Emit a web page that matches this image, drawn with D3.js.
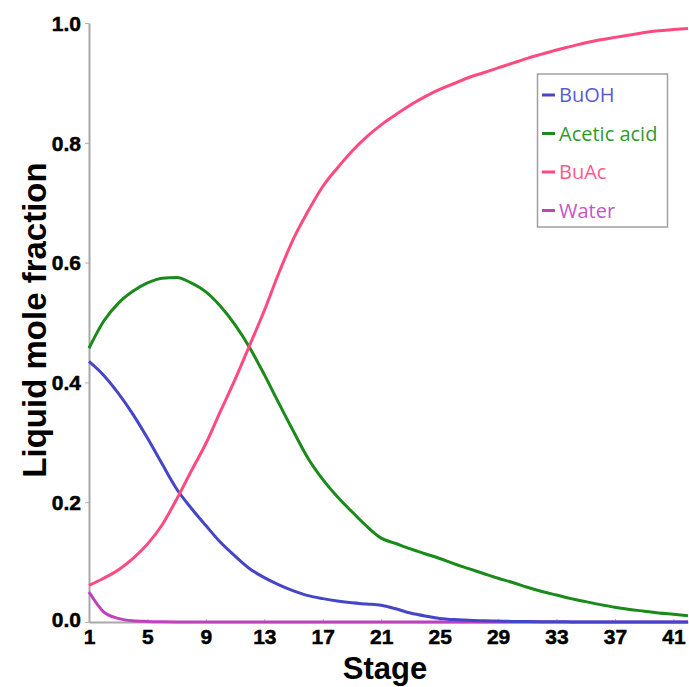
<!DOCTYPE html>
<html>
<head>
<meta charset="utf-8">
<script src="https://cdn.jsdelivr.net/npm/d3@7"></script>
<style>
  html, body { margin: 0; padding: 0; background: #fff; }
  svg { display: block; }
</style>
</head>
<body>
<svg id="chart" width="689" height="687"></svg>
<script>
const stages = d3.range(1, 43);
const xTicks = [1, 5, 9, 13, 17, 21, 25, 29, 33, 37, 41];
const yTicks = [0, 0.2, 0.4, 0.6, 0.8, 1.0];
const seriesNames = ["BuOH", "Acetic acid", "BuAc", "Water"];
const seriesColors = ["#4545c8", "#1a8a1a", "#ff4a80", "#c040c0"];
const legendTextColors = ["#5a5ad6", "#2e9a2e", "#ff5a8c", "#c855c8"];

const buoh = [0.435, 0.412, 0.382, 0.347, 0.307, 0.264, 0.222, 0.190, 0.161, 0.133,
  0.110, 0.089, 0.074, 0.062, 0.052, 0.044, 0.039, 0.035, 0.032, 0.030,
  0.028, 0.022, 0.015, 0.010, 0.006, 0.004, 0.003, 0.002, 0.0015, 0.001,
  0.0007, 0.0005, 0.0003, 0.0002, 0.0001, 0, 0, 0, 0, 0, 0, 0];
const acetic = [0.457, 0.502, 0.532, 0.552, 0.566, 0.574, 0.575, 0.566, 0.551, 0.527,
  0.496, 0.458, 0.413, 0.365, 0.318, 0.273, 0.238, 0.209, 0.184, 0.160,
  0.140, 0.131, 0.122, 0.114, 0.106, 0.097, 0.089, 0.081, 0.073, 0.066,
  0.058, 0.051, 0.045, 0.039, 0.034, 0.029, 0.0245, 0.021, 0.018, 0.015,
  0.0128, 0.0105];
const buac = [0.061, 0.073, 0.087, 0.106, 0.130, 0.162, 0.205, 0.252, 0.298, 0.352,
  0.405, 0.462, 0.520, 0.583, 0.640, 0.686, 0.727, 0.758, 0.786, 0.810,
  0.830, 0.847, 0.863, 0.877, 0.889, 0.899, 0.909, 0.917, 0.925, 0.933,
  0.941, 0.948, 0.955, 0.961, 0.967, 0.972, 0.976, 0.980, 0.984, 0.987,
  0.989, 0.991];
const water = [0.050, 0.017, 0.006, 0.002, 0.001, 0.0005, 0.0002, 0, 0, 0,
  0, 0, 0, 0, 0, 0, 0, 0, 0, 0,
  0, 0, 0, 0, 0, 0, 0, 0, 0, 0,
  0, 0, 0, 0, 0, 0, 0, 0, 0, 0,
  0, 0];
const seriesValues = [buoh, acetic, buac, water];

const svg = d3.select("#chart");
const x = d3.scaleLinear().domain([1, 42]).range([89, 688]);
const y = d3.scaleLinear().domain([0, 1]).range([622, 23]);

// axes
const xAxis = d3.axisBottom(x).tickValues(xTicks).tickSize(-3).tickSizeOuter(0).tickPadding(5)
  .tickFormat(d3.format("d"));
const yAxis = d3.axisLeft(y).tickValues(yTicks).tickSize(4).tickSizeOuter(0).tickPadding(4)
  .tickFormat(d3.format(".1f"));

const gx = svg.append("g").attr("transform", "translate(0,622)").call(xAxis);
const gy = svg.append("g").attr("transform", "translate(89,0)").call(yAxis);

[gx, gy].forEach(g => {
  g.select(".domain").attr("stroke", "#a8a8a8").attr("stroke-width", 2);
  g.selectAll(".tick line").attr("stroke", "#b0b0b0").attr("stroke-width", 1);
  g.selectAll(".tick text")
    .attr("fill", "#000")
    .style("font-family", "'Liberation Sans', Arial, sans-serif")
    .style("font-weight", "bold")
    .attr("stroke", "#000").attr("stroke-width", 0.5);
});
gx.selectAll(".tick text").style("font-size", "21px").attr("dy", "0.82em");
gy.selectAll(".tick text").style("font-size", "21px").attr("dy", "0.35em");
gy.selectAll(".tick").filter(d => d === 0).select("text").attr("dy", "0.2em");

// lines
const line = d3.line()
  .x((d, i) => x(stages[i]))
  .y(d => y(d))
  .curve(d3.curveMonotoneX);

const lineOrder = [3, 0, 1, 2];
lineOrder.forEach(k => {
  svg.append("path")
    .datum(seriesValues[k])
    .attr("fill", "none")
    .attr("stroke", seriesColors[k])
    .attr("stroke-width", 3)
    .attr("stroke-linejoin", "round")
    .attr("d", line);
});

// axis titles
svg.append("text")
  .attr("x", 385).attr("y", 679)
  .attr("text-anchor", "middle")
  .style("font-family", "'Liberation Sans', Arial, sans-serif")
  .style("font-weight", "bold")
  .style("font-size", "31px")
  .text("Stage");

svg.append("text")
  .attr("transform", "translate(46,320) rotate(-90)")
  .attr("text-anchor", "middle")
  .style("font-family", "'Liberation Sans', Arial, sans-serif")
  .style("font-weight", "bold")
  .style("font-size", "33px")
  .text("Liquid mole fraction");

// legend
const lg = svg.append("g");
lg.append("rect")
  .attr("x", 537.5).attr("y", 74).attr("width", 130).attr("height", 153)
  .attr("fill", "#fff").attr("stroke", "#a0a0a0").attr("stroke-width", 1.5);

seriesNames.forEach((name, i) => {
  const cy = 95 + i * 38.5;
  lg.append("line")
    .attr("x1", 542).attr("x2", 555).attr("y1", cy).attr("y2", cy)
    .attr("stroke", seriesColors[i]).attr("stroke-width", 3);
  lg.append("text")
    .attr("x", 559).attr("y", cy).attr("dy", "0.35em")
    .attr("fill", legendTextColors[i])
    .style("font-family", "'Open Sans', 'Noto Sans', sans-serif")
    .style("font-size", "20px")
    .text(name);
});
</script>
</body>
</html>
